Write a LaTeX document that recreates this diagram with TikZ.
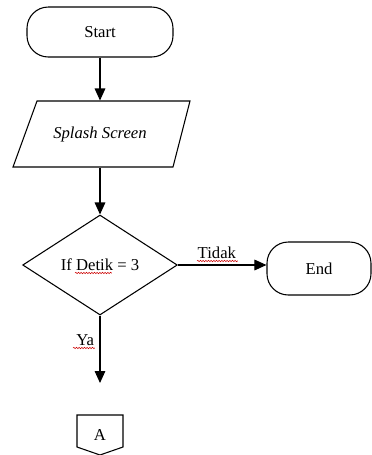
\documentclass[tikz,border=0pt]{standalone}
\usepackage{fontspec}
\setmainfont{Liberation Serif}
\usetikzlibrary{shapes.geometric,arrows.meta,decorations.pathmorphing}
\begin{document}
\begin{tikzpicture}[x=0.75pt,y=-0.75pt,line width=0.8pt,
  txt/.style={font=\fontsize{12.5}{14}\selectfont, inner sep=0pt},
  term/.style={txt, draw, rounded corners=16pt},
  arr/.style={-{Triangle[length=9pt,width=8pt]}},
  squig/.style={draw=red!80!black, line width=0.4pt, decorate,
    decoration={snake, amplitude=0.5pt, segment length=2pt}}]
\useasboundingbox (0,0) rectangle (372,455);
% Start
\node[term, minimum width=109.5pt, minimum height=37.5pt] (start) at (100,32) {Start};
% Splash screen (parallelogram)
\node[txt, minimum width=114pt, minimum height=49.5pt] (splash) at (100,134) {\itshape Splash Screen};
\draw (37,101) -- (190,101) -- (173,167) -- (13,167) -- cycle;
% Decision
\node[txt, draw, diamond, minimum width=116pt, minimum height=75pt] (dec) at (100,265) {If Detik = 3};
% End
\node[term, minimum width=78pt, minimum height=39.75pt] (end) at (319,268.5) {End};
% Connector A
\node[txt, minimum width=34.5pt, minimum height=30pt] (conA) at (100,435) {A};
\draw (77,415) -- (123,415) -- (123,447) -- (100,455) -- (77,447) -- cycle;
\coordinate (ya) at (100,383);
% Connectors
\draw[arr] (start.south) -- (splash.north);
\draw[arr] (splash.south) -- (dec.north);
\draw[arr] (dec.east) -- (end.west |- dec.east) node[txt, midway, above=4pt, xshift=-4pt] (tidak) {Tidak};
\draw[arr] (dec.south) -- (ya) node[txt, pos=0.37, left=4pt] (yalbl) {Ya};
% spell-check underlines
\draw[squig] (75,273) -- (112,273);
\draw[squig] (197,261) -- (238,261);
\draw[squig] (73,348) -- (95,348);
\end{tikzpicture}
\end{document}
